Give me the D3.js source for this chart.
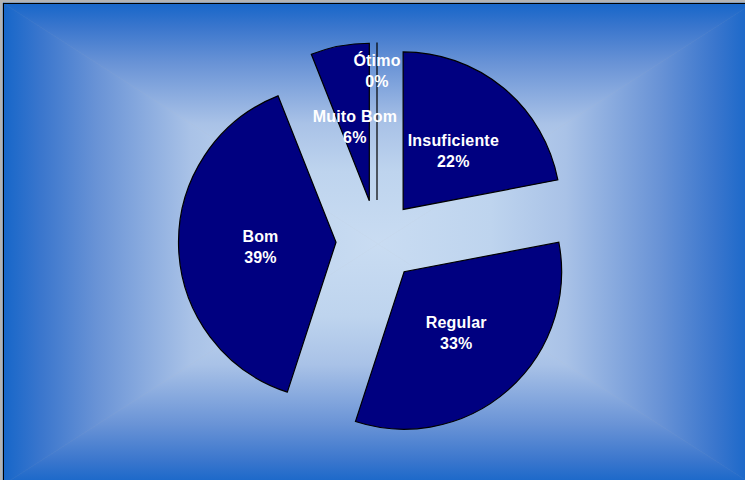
<!DOCTYPE html>
<html>
<head>
<meta charset="utf-8">
<script src="https://cdn.jsdelivr.net/npm/d3@7"></script>
<style>
html,body{margin:0;padding:0;background:#b4b4b4;overflow:hidden;}
svg{display:block;}
</style>
</head>
<body>
<svg id="chart" width="745" height="480"></svg>
<script>
// ---- data ----
const categories = ["Insuficiente", "Regular", "Bom", "Muito Bom", "Ótimo"];
const values = [22, 33, 39, 6, 0];
const percentLabels = ["22%", "33%", "39%", "6%", "0%"];

// ---- layout ----
const W = 745, H = 480;
const area = {x: 3, y: 3, w: 750, h: 482};
const cx = 377, cy = 241, R = 157.5, explode = 41;

const svg = d3.select("#chart");
const defs = svg.append("defs");

// rectangular "from center" gradient built from four triangles
const gcx = area.x + area.w / 2, gcy = area.y + area.h / 2;
const stops = [
  [0, "#c9dcf2"], [0.3, "#bed4ee"], [0.5, "#a9c2e7"],
  [0.75, "#6993d6"], [0.9, "#3a76cd"], [1, "#1666c9"]
];
function grad(id, x1, y1, x2, y2) {
  const g = defs.append("linearGradient").attr("id", id)
    .attr("gradientUnits", "userSpaceOnUse")
    .attr("x1", x1).attr("y1", y1).attr("x2", x2).attr("y2", y2);
  stops.forEach(s => g.append("stop").attr("offset", s[0]).attr("stop-color", s[1]));
}
const x0 = area.x, y0 = area.y, x1 = area.x + area.w, y1 = area.y + area.h;
grad("gTop", 0, gcy, 0, y0);
grad("gBot", 0, gcy, 0, y1);
grad("gLeft", gcx, 0, x0, 0);
grad("gRight", gcx, 0, x1, 0);
const bg = svg.append("g");
const tri = [
  ["gTop", [[x0, y0], [x1, y0], [gcx, gcy]]],
  ["gBot", [[x0, y1], [x1, y1], [gcx, gcy]]],
  ["gLeft", [[x0, y0], [x0, y1], [gcx, gcy]]],
  ["gRight", [[x1, y0], [x1, y1], [gcx, gcy]]]
];
tri.forEach(([id, pts]) => {
  bg.append("path")
    .attr("d", "M" + pts.map(p => p.join(",")).join("L") + "Z")
    .attr("fill", `url(#${id})`)
    .attr("stroke", `url(#${id})`).attr("stroke-width", 0.6);
});
svg.append("rect")
  .attr("x", area.x + 0.5).attr("y", area.y + 0.5)
  .attr("width", area.w).attr("height", area.h)
  .attr("fill", "none").attr("stroke", "#000").attr("stroke-width", 1);

// ---- pie ----
const data = categories.map((c, i) => ({cat: c, value: values[i], pct: percentLabels[i]}));
const pie = d3.pie().sort(null).value(d => d.value).startAngle(0).endAngle(2 * Math.PI);
const arcs = pie(data);
const arc = d3.arc().innerRadius(0).outerRadius(R);

const g = svg.append("g").attr("transform", `translate(${cx},${cy})`);
const labelFrac = [0.5, 0.5, 0.48, 0.49, 0.83];

arcs.forEach((a, i) => {
  const mid = (a.startAngle + a.endAngle) / 2;
  const ox = explode * Math.sin(mid), oy = -explode * Math.cos(mid);
  const sg = g.append("g").attr("transform", `translate(${ox},${oy})`);
  sg.append("path")
    .attr("d", arc(a))
    .attr("fill", "#000080")
    .attr("stroke", "#000")
    .attr("stroke-width", 1.2)
    .attr("stroke-linejoin", "miter");
});

arcs.forEach((a, i) => {
  const mid = (a.startAngle + a.endAngle) / 2;
  const ox = explode * Math.sin(mid), oy = -explode * Math.cos(mid);
  const lr = R * labelFrac[i];
  const lx = ox + lr * Math.sin(mid), ly = oy - lr * Math.cos(mid);
  const t = g.append("text")
    .attr("text-anchor", "middle")
    .attr("font-family", "'Liberation Sans', Arial, sans-serif")
    .attr("font-weight", "bold")
    .attr("font-size", "16px")
    .attr("letter-spacing", "0.2px")
    .attr("fill", "#ffffff");
  t.append("tspan").attr("x", lx).attr("y", ly - 3).text(a.data.cat);
  t.append("tspan").attr("x", lx).attr("y", ly + 18).text(a.data.pct);
});
</script>
</body>
</html>
